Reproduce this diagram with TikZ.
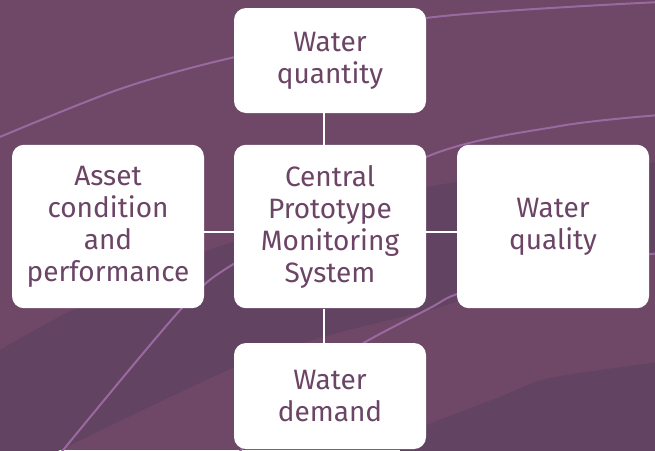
\documentclass[tikz,border=0pt]{standalone}
\usepackage{fontspec}
\setmainfont{Fira Sans}
\usepackage{xcolor}
\definecolor{bgmain}{HTML}{6E4866}
\definecolor{bgdark}{HTML}{634362}
\definecolor{swooshcol}{HTML}{9A69A0}
\definecolor{labelcol}{HTML}{6B4466}
\tikzset{
	box/.style={rectangle, fill=white, rounded corners=9pt, minimum width=144pt,
		inner sep=0pt, align=center, text=labelcol, font=\fontsize{21}{24}\selectfont},
	link/.style={draw=white, line width=1.2pt},
	swoosh/.style={draw=swooshcol, line width=1.5pt}
}

\begin{document}
\begin{tikzpicture}[x=0.75pt, y=-0.75pt]

		% Background
		\useasboundingbox (0,0) rectangle (655,450);
		\fill[bgmain] (0,0) rectangle (655,450);
		\begin{scope}
			\clip (0,0) rectangle (655,450);
			\fill[bgdark] plot[smooth] coordinates {(-5,353) (77,308) (218,247) (426,187) (660,162)}
				-- plot[smooth] coordinates {(660,253) (550,270) (470,297) (430,310) (330,335) (235,367) (60,450) (50,456)}
				-- (-5,456) -- cycle;
			\fill[bgdark] plot[smooth] coordinates {(400,440) (427,425) (500,397) (550,378) (660,362)}
				-- (660,456) -- (400,456) -- cycle;
			\draw[swoosh] plot[smooth] coordinates {(-5,139) (120,89) (235,57) (426,18) (660,2)};
			\draw[swoosh] plot[smooth] coordinates {(55,460) (182,308) (240,260) (426,157) (560,126) (660,115)};
			\draw[swoosh] plot[smooth] coordinates {(236,456) (300,385) (360,345) (430,308) (460,293) (550,268) (660,253)};
		\end{scope}

		% Boxes
		\node[box, minimum height=78.75pt] (top) at (330,60.5) {Water\\quantity};
		\node[box, minimum height=122.6pt] (mid) at (330,226.5) {Central\\Prototype\\Monitoring\\System};
		\node[box, minimum height=122.6pt] (left) at (108,226.5) {Asset\\condition\\and\\performance};
		\node[box, minimum height=122.6pt] (right) at (553,226.5) {Water\\quality};
		\node[box, minimum height=79.5pt] (bottom) at (330,396) {Water\\demand};

		% Links
		\draw[link] ([xshift=-4.5pt]top.south) -- ([xshift=-4.5pt]mid.north);
		\draw[link] ([xshift=-4.5pt]mid.south) -- ([xshift=-4.5pt]bottom.north);
		\draw[link] ([yshift=-3.9pt]left.east) -- ([yshift=-3.9pt]mid.west);
		\draw[link] ([yshift=-3.9pt]mid.east) -- ([yshift=-3.9pt]right.west);

	\end{tikzpicture}
\end{document}
